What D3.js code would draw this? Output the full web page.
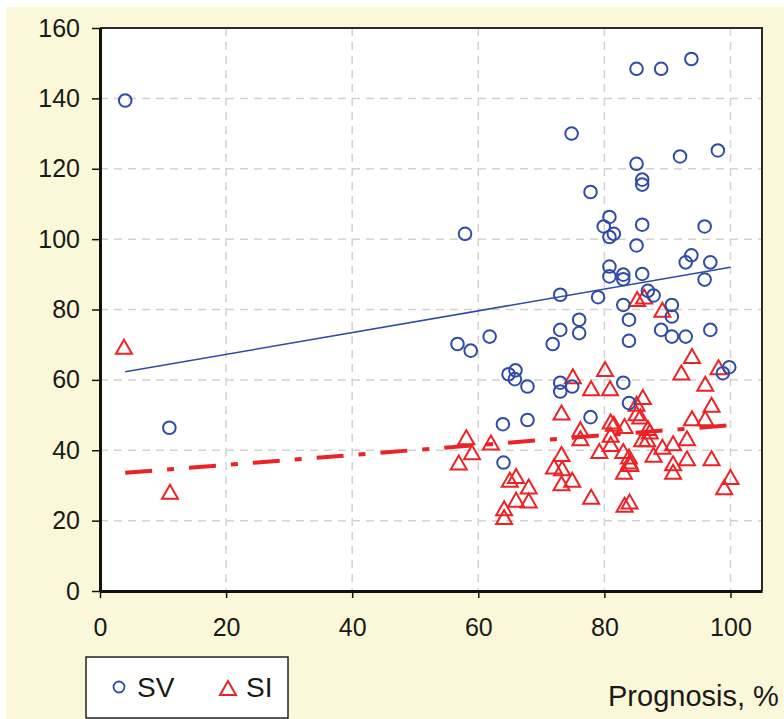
<!DOCTYPE html>
<html>
<head>
<meta charset="utf-8">
<script src="https://cdn.jsdelivr.net/npm/d3@7"></script>
<style>
    body { margin: 0; background: #ffffff; }
    #chart-area text { font-family: "Liberation Sans", Arial, sans-serif; fill: #1a1a1a; }
</style>
</head>
<body>
<div id="chart-area"></div>
<script>

// SV (circles), prognosis % vs value
var svX = [4, 11, 57.9, 56.7, 58.8, 61.8, 64, 63.9, 64.8, 65.9, 65.8, 67.8, 67.8, 71.8, 73, 73, 73, 73, 74.9, 76, 76,
    74.8, 77.8, 77.8, 79, 79.9, 80.8, 80.8, 81.5, 80.8, 80.8, 83, 83, 83, 83, 83.9, 83.9, 83.9, 85.1, 85.1, 85.1,
    86, 86, 86, 86, 86.9, 87.8, 89, 89, 90.7, 90.7, 90.7, 92, 92.9, 93.8, 92.9, 93.8, 95.9, 95.9, 96.8, 96.8, 98, 98.8, 99.8];
var svY = [139.4, 46.4, 101.5, 70.2, 68.3, 72.3, 36.5, 47.4, 61.6, 62.7, 60.2, 58.1, 48.6, 70.2, 84.2, 74.2, 59.2, 56.7, 58.1, 77.1, 73.3,
    130, 113.4, 49.4, 83.5, 103.6, 106.3, 100.6, 101.5, 92.2, 89.4, 89.9, 88.6, 81.3, 59.2, 77.1, 71.1, 53.4, 148.4, 121.4, 98.2,
    116.9, 115.5, 104.1, 90.1, 85.3, 84, 148.4, 74.2, 81.3, 78, 72.3, 123.5, 93.4, 95.4, 72.3, 151.2, 103.6, 88.5, 93.4, 74.2, 125.2, 61.9, 63.6];

// SI (triangles)
var siX = [3.8, 11.1, 58.1, 59, 56.9, 62, 64.1, 64.1, 65, 66, 66, 68, 68, 72, 73.3, 73.2, 73.2, 74.9, 73.2, 75, 76.2, 76.2,
    77.9, 77.9, 79.2, 80.1, 80.9, 81, 81.5, 81, 81, 83.2, 83, 83.1, 83.2, 84, 83.9, 84, 84.1, 85.1, 85.1, 85.7, 86.1,
    85.2, 86.3, 86.9, 87.2, 86, 86.8, 87.8, 89.2, 89.2, 90.9, 90.9, 90.9, 92.2, 93.1, 93.1, 93.9, 93.9, 96, 96, 97, 97,
    98.1, 99, 100];
var siY = [69.4, 28.2, 43.7, 39.4, 36.5, 42.2, 23.5, 21, 31.6, 32.7, 25.9, 25.7, 29.7, 35.4, 34.9, 38.9, 30.6, 31.6, 50.7, 61, 46, 43.4,
    57.6, 26.8, 39.8, 63.1, 57.6, 48.2, 47.5, 44.4, 41.8, 46.9, 39.8, 33.9, 24.5, 25.4, 38.2, 36.8, 36.1, 53.2, 50.5, 49.6, 55.1,
    83, 83.7, 46.3, 45.3, 43.1, 43.1, 38.7, 41, 79.9, 42, 36.3, 33.9, 62.1, 43.4, 37.7, 66.8, 49.1, 49.1, 58.9, 52.9, 37.7,
    63.6, 29.5, 32.4];

// linear trend lines (end points)
var svTrend = [[4, 62.3], [100, 92]];
var siTrend = [[4, 33.6], [100, 47.1]];

var xTicks = [0, 20, 40, 60, 80, 100];
var yTicks = [0, 20, 40, 60, 80, 100, 120, 140, 160];
var seriesNames = ["SV", "SI"];

var blue = "#2f4ba6", red = "#ec2326";


ScatterChart = function(_parentElement){
    this.parentElement = _parentElement;
    this.initVis();
}

ScatterChart.prototype.initVis = function(){
    var vis = this;

    vis.width = 784;
    vis.height = 719;
    vis.plot = { left: 100, top: 28, right: 762, bottom: 591 };

    vis.svg = d3.select("#" + vis.parentElement).append("svg")
        .attr("width", vis.width)
        .attr("height", vis.height);

    // cream page + white plot area
    vis.svg.append("rect")
        .attr("x", 6).attr("y", 7)
        .attr("width", vis.width - 6).attr("height", vis.height - 7)
        .attr("fill", "#faf8d8");
    vis.svg.append("rect")
        .attr("x", vis.plot.left).attr("y", vis.plot.top)
        .attr("width", vis.plot.right - vis.plot.left)
        .attr("height", vis.plot.bottom - vis.plot.top)
        .attr("fill", "#ffffff");

    vis.x = d3.scaleLinear().domain([0, 105]).range([vis.plot.left, vis.plot.right]);
    vis.y = d3.scaleLinear().domain([0, 160]).range([vis.plot.bottom, vis.plot.top]);

    vis.xAxis = d3.axisBottom(vis.x).tickValues(xTicks).tickSize(7).tickSizeOuter(0).tickPadding(20);
    vis.yAxis = d3.axisLeft(vis.y).tickValues(yTicks).tickSize(8).tickSizeOuter(0).tickPadding(12);

    vis.updateVis();
}

ScatterChart.prototype.updateVis = function(){
    var vis = this;

    // dashed grid
    vis.svg.append("g").selectAll("line")
        .data(xTicks.filter(function(d) { return d > 0; }))
        .enter().append("line")
        .attr("x1", function(d) { return vis.x(d); })
        .attr("x2", function(d) { return vis.x(d); })
        .attr("y1", vis.plot.top).attr("y2", vis.plot.bottom)
        .attr("stroke", "#d2d2d2").attr("stroke-width", 1.5)
        .attr("stroke-dasharray", "8,6");
    vis.svg.append("g").selectAll("line")
        .data(yTicks.filter(function(d) { return d > 0 && d < 160; }))
        .enter().append("line")
        .attr("y1", function(d) { return vis.y(d); })
        .attr("y2", function(d) { return vis.y(d); })
        .attr("x1", vis.plot.left).attr("x2", vis.plot.right)
        .attr("stroke", "#d2d2d2").attr("stroke-width", 1.5)
        .attr("stroke-dasharray", "8,6");

    // top / right frame
    vis.svg.append("path")
        .attr("d", "M" + vis.plot.left + "," + vis.plot.top + "H" + vis.plot.right + "V" + vis.plot.bottom)
        .attr("fill", "none").attr("stroke", "#2a2a2a").attr("stroke-width", 2);

    var line = d3.line()
        .x(function(d) { return vis.x(d[0]); })
        .y(function(d) { return vis.y(d[1]); });

    vis.svg.append("path")
        .datum(svTrend)
        .attr("d", line)
        .attr("fill", "none").attr("stroke", blue).attr("stroke-width", 1.6);

    // triangles
    var tri = "M0,-7L8,7L-8,7Z";
    vis.svg.append("g").selectAll("path")
        .data(siX)
        .enter().append("path")
        .attr("d", tri)
        .attr("transform", function(d, i) { return "translate(" + vis.x(d) + "," + vis.y(siY[i]) + ")"; })
        .attr("fill", "none").attr("stroke", red).attr("stroke-width", 2);

    // circles
    vis.svg.append("g").selectAll("circle")
        .data(svX)
        .enter().append("circle")
        .attr("cx", function(d) { return vis.x(d); })
        .attr("cy", function(d, i) { return vis.y(svY[i]); })
        .attr("r", 6.3)
        .attr("fill", "none").attr("stroke", blue).attr("stroke-width", 2);

    vis.svg.append("path")
        .datum(siTrend)
        .attr("d", line)
        .attr("fill", "none").attr("stroke", red).attr("stroke-width", 4)
        .attr("stroke-dasharray", "27,15,7,15");

    // axes
    var gx = vis.svg.append("g")
        .attr("transform", "translate(0," + vis.plot.bottom + ")")
        .call(vis.xAxis);
    var gy = vis.svg.append("g")
        .attr("transform", "translate(" + vis.plot.left + ",0)")
        .call(vis.yAxis);
    [gx, gy].forEach(function(g) {
        g.select(".domain").attr("stroke", "#111").attr("stroke-width", 3);
        g.selectAll(".tick line").attr("stroke", "#111").attr("stroke-width", 1.5);
        g.selectAll(".tick text").attr("font-size", 25).attr("fill", "#1a1a1a")
            .style("font-family", "'Liberation Sans', Arial, sans-serif");
    });

    // legend
    var lg = vis.svg.append("g");
    lg.append("rect")
        .attr("x", 86).attr("y", 657).attr("width", 202).attr("height", 61)
        .attr("fill", "#ffffff").attr("stroke", "#222").attr("stroke-width", 1.5);
    lg.append("circle")
        .attr("cx", 119).attr("cy", 687).attr("r", 5.5)
        .attr("fill", "none").attr("stroke", blue).attr("stroke-width", 1.8);
    lg.append("path")
        .attr("d", tri)
        .attr("transform", "translate(228,688)")
        .attr("fill", "none").attr("stroke", red).attr("stroke-width", 2);
    lg.selectAll("text")
        .data(seriesNames)
        .enter().append("text")
        .attr("x", function(d, i) { return i === 0 ? 137 : 246; })
        .attr("y", 697)
        .attr("font-size", 28)
        .text(function(d) { return d; });

    vis.svg.append("text")
        .attr("x", 608).attr("y", 706)
        .attr("font-size", 29)
        .text("Prognosis, %");
}

var chart = new ScatterChart("chart-area");
</script>
</body>
</html>
